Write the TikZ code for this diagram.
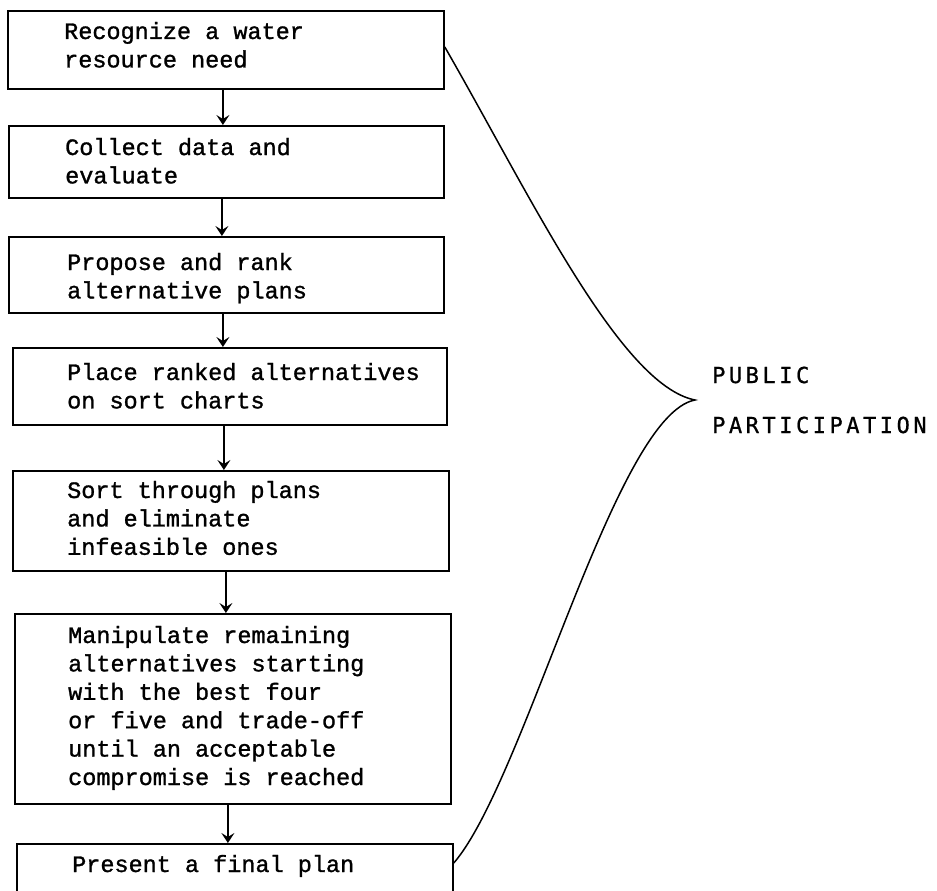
\documentclass[tikz,border=0pt]{standalone}
\usepackage{fontspec}
\usetikzlibrary{arrows.meta}
\newfontfamily\boxfont[FakeBold=1.2]{Liberation Mono}
\newfontfamily\labfont[LetterSpace=16,FakeBold=0.8]{DejaVu Sans Mono}
\newcommand\boxlines[1]{\vtop{\baselineskip=28.4pt\lineskip=0pt\lineskiplimit=-100pt\halign{##\hfil\cr#1\crcr}}}
\begin{document}
\begin{tikzpicture}[x=1pt,y=-1pt,
  boxst/.style={draw=black,line width=1.8pt,rectangle,inner sep=0pt,anchor=north west},
  txt/.style={inner sep=0pt,anchor=base west,font=\boxfont\fontsize{23.5}{28.4}\selectfont},
  arr/.style={line width=1.8pt,-{Stealth[length=10pt,width=13pt,inset=4pt]}},
  brace/.style={line width=1.5pt,line join=miter},
  lab/.style={inner sep=0pt,anchor=base west,font=\labfont\fontsize{22}{26}\selectfont}]
\useasboundingbox (0,0) rectangle (937,891);
\clip (0,0) rectangle (937,891);
\fill[white] (0,0) rectangle (937,891);
% boxes
\node[boxst,minimum width=436pt,minimum height=78pt] (b1) at (7,10) {};
\node[boxst,minimum width=435pt,minimum height=72pt] (b2) at (8,125) {};
\node[boxst,minimum width=435pt,minimum height=76pt] (b3) at (8,236) {};
\node[boxst,minimum width=434pt,minimum height=77pt] (b4) at (12,347) {};
\node[boxst,minimum width=436pt,minimum height=100pt] (b5) at (12,470) {};
\node[boxst,minimum width=436pt,minimum height=190pt] (b6) at (14,613) {};
\node[boxst,minimum width=436pt,minimum height=70pt] (b7) at (16,843) {};
% texts
\node[txt] (t1) at (64,39) {\boxlines{Recognize a water\cr resource need}};
\node[txt] (t2) at (65,155) {\boxlines{Collect data and\cr evaluate}};
\node[txt] (t3) at (67,270) {\boxlines{Propose and rank\cr alternative plans}};
\node[txt] (t4) at (67,380) {\boxlines{Place ranked alternatives\cr on sort charts}};
\node[txt] (t5) at (67,498) {\boxlines{Sort through plans\cr and eliminate\cr infeasible ones}};
\node[txt] (t6) at (68,643) {\boxlines{Manipulate remaining\cr alternatives starting\cr with the best four\cr or five and trade-off\cr until an acceptable\cr compromise is reached}};
\node[txt] (t7) at (72,872) {\boxlines{Present a final plan}};
% arrows
\draw[arr] ([xshift=-3pt]b1.south) -- ([xshift=-3pt]b1.south |- b2.north);
\draw[arr] ([xshift=-4.5pt]b2.south) -- ([xshift=-4.5pt]b2.south |- b3.north);
\draw[arr] ([xshift=-3.5pt]b3.south) -- ([xshift=-3.5pt]b3.south |- b4.north);
\draw[arr] ([xshift=-6pt]b4.south) -- ([xshift=-6pt]b4.south |- b5.north);
\draw[arr] ([xshift=-5pt]b5.south) -- ([xshift=-5pt]b5.south |- b6.north);
\draw[arr] ([xshift=-5pt]b6.south) -- ([xshift=-5pt]b6.south |- b7.north);
% brace
\coordinate (tip) at (695,400);
\coordinate (bt) at (b1.east |- 0,47);
\coordinate (bb) at (b7.east |- 0,863);
\draw[brace] (bt) .. controls (530,195) and (620,385) .. (tip)
  .. controls (615,415) and (525,780) .. (bb);
% label
\node[lab] (pub) at (712,383) {PUBLIC};
\node[lab] (par) at (712,433) {PARTICIPATION};
\end{tikzpicture}
\end{document}
